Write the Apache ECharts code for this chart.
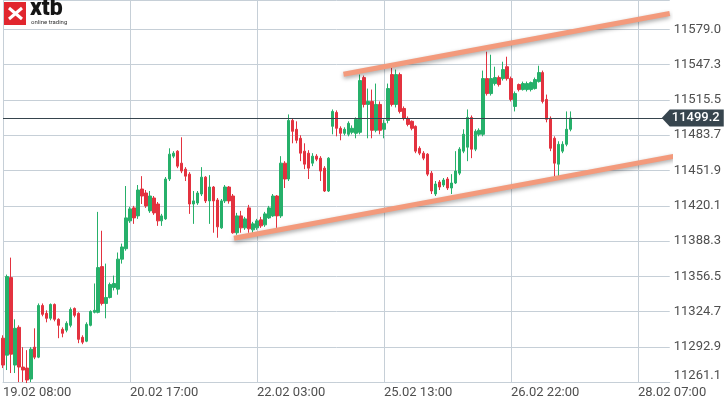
<!DOCTYPE html>
<html><head><meta charset="utf-8">
<script src="https://cdn.jsdelivr.net/npm/echarts@6/dist/echarts.min.js"></script>
<style>html,body{margin:0;padding:0;background:#fff}#c{width:724px;height:403px}</style>
</head><body><div id="c"></div>
<script>
// ---- data ----
const tickLabels = ['19.02 08:00', '20.02 17:00', '22.02 03:00', '25.02 13:00', '26.02 22:00', '28.02 07:00'];
const candlesPerTick = 32;
const slotCount = 169;
const yTickLabels = ['11261.1', '11292.9', '11324.7', '11356.5', '11388.3', '11420.1', '11451.9', '11483.7', '11515.5', '11547.3', '11579.0'];
const lastPrice = 11499.2;

const opens = [
11300.8, 11285.5, 11355.4, 11276.6, 11310.6, 11274.8, 11273.9, 11264.0, 11292.7, 11283.7,
11330.3, 11323.2, 11318.7, 11331.2, 11317.8, 11308.8, 11308.0, 11312.4, 11327.6, 11323.2,
11301.6, 11298.1, 11312.4, 11324.1, 11324.1, 11365.3, 11332.1, 11337.5, 11346.5, 11345.0,
11372.0, 11381.4, 11406.5, 11418.2, 11411.0, 11435.2, 11431.6, 11415.5, 11427.1, 11421.7,
11406.5, 11408.3, 11444.2, 11464.8, 11469.3, 11458.5, 11453.1, 11448.6, 11421.7, 11422.6,
11430.7, 11445.9, 11424.5, 11437.0, 11425.3, 11400.2, 11424.5, 11437.0, 11428.9, 11395.8,
11411.0, 11400.2, 11418.2, 11398.4, 11400.2, 11407.4, 11402.9, 11409.2, 11411.0, 11428.9,
11411.0, 11458.5, 11444.2, 11497.0, 11489.0, 11480.9, 11469.3, 11467.5, 11458.5, 11464.8,
11463.0, 11454.0, 11433.4, 11491.7, 11504.2, 11489.9, 11485.4, 11484.5, 11486.3, 11485.4,
11486.3, 11535.6, 11511.4, 11514.1, 11488.1, 11511.4, 11489.0, 11497.0, 11538.3, 11511.4,
11538.3, 11507.8, 11498.8, 11496.2, 11491.7, 11471.9, 11467.5, 11466.6, 11449.5, 11430.7,
11441.5, 11438.8, 11444.2, 11436.1, 11440.6, 11449.5, 11469.3, 11472.9, 11499.7, 11471.1,
11484.5, 11484.5, 11534.7, 11521.2, 11530.2, 11535.6, 11534.7, 11545.4, 11534.7, 11509.6,
11529.3, 11524.8, 11524.8, 11524.8, 11525.7, 11532.0, 11540.1, 11515.9, 11498.8, 11480.9,
11457.6, 11469.3, 11475.5, 11489.0];
const closes = [
11276.6, 11356.3, 11286.4, 11309.7, 11274.8, 11272.1, 11263.1, 11290.9, 11283.7, 11330.3,
11322.3, 11318.7, 11331.2, 11317.8, 11312.4, 11305.2, 11314.2, 11326.7, 11321.4, 11299.8,
11297.2, 11313.3, 11324.9, 11325.9, 11364.4, 11332.1, 11337.5, 11349.2, 11350.1, 11372.0,
11383.0, 11409.2, 11417.3, 11409.2, 11434.3, 11428.9, 11420.0, 11428.9, 11413.7, 11406.5,
11411.0, 11444.2, 11466.6, 11467.5, 11455.8, 11451.4, 11446.8, 11421.7, 11424.5, 11431.6,
11445.9, 11424.5, 11437.0, 11424.5, 11401.1, 11424.5, 11437.0, 11424.5, 11395.8, 11411.0,
11400.2, 11408.3, 11399.3, 11403.8, 11406.5, 11402.0, 11412.8, 11418.2, 11428.9, 11411.0,
11458.5, 11444.2, 11497.0, 11487.2, 11479.1, 11467.5, 11457.6, 11454.0, 11464.8, 11462.1,
11451.4, 11433.4, 11463.0, 11505.1, 11489.9, 11485.4, 11489.0, 11494.4, 11489.9, 11497.9,
11532.9, 11511.4, 11514.1, 11488.1, 11511.4, 11488.1, 11494.4, 11525.7, 11511.4, 11538.3,
11505.1, 11498.8, 11493.4, 11489.9, 11469.3, 11467.5, 11463.0, 11448.6, 11433.4, 11439.7,
11437.0, 11443.3, 11436.1, 11440.6, 11451.4, 11471.1, 11484.5, 11499.7, 11471.1, 11487.2,
11488.1, 11534.7, 11521.2, 11534.7, 11535.6, 11529.3, 11542.8, 11534.7, 11515.9, 11521.2,
11524.8, 11530.2, 11530.2, 11531.1, 11533.8, 11540.1, 11514.1, 11498.0, 11471.9, 11458.5,
11475.5, 11475.5, 11489.0, 11499.2];
const lows = [
11273.9, 11272.1, 11269.4, 11269.4, 11261.3, 11261.3, 11260.4, 11261.3, 11281.9, 11282.8,
11320.5, 11315.1, 11316.9, 11316.0, 11300.8, 11301.6, 11306.1, 11310.6, 11319.6, 11296.3,
11295.4, 11297.2, 11311.5, 11323.2, 11323.2, 11330.3, 11318.7, 11336.6, 11343.8, 11340.0,
11368.0, 11379.6, 11404.7, 11403.8, 11408.3, 11421.7, 11418.2, 11413.7, 11411.9, 11402.0,
11402.0, 11407.4, 11442.4, 11463.0, 11454.0, 11449.5, 11442.4, 11412.8, 11403.8, 11420.9,
11428.9, 11422.6, 11403.8, 11395.8, 11391.3, 11399.3, 11422.6, 11422.0, 11394.9, 11394.0,
11395.8, 11398.4, 11395.8, 11395.8, 11398.4, 11400.2, 11401.1, 11408.3, 11410.1, 11400.2,
11409.2, 11436.1, 11442.4, 11476.4, 11476.4, 11460.3, 11453.1, 11444.2, 11455.8, 11460.3,
11442.4, 11432.5, 11432.5, 11484.5, 11482.7, 11479.1, 11483.6, 11482.7, 11484.5, 11480.9,
11484.5, 11508.7, 11480.9, 11480.9, 11486.3, 11484.5, 11480.9, 11494.4, 11509.6, 11508.7,
11503.3, 11497.0, 11491.7, 11488.1, 11467.5, 11465.7, 11461.2, 11446.8, 11430.7, 11428.9,
11434.3, 11437.0, 11434.3, 11430.7, 11439.7, 11447.7, 11467.5, 11460.3, 11463.0, 11469.3,
11482.7, 11482.7, 11519.4, 11519.4, 11528.4, 11527.5, 11532.9, 11532.9, 11514.1, 11505.1,
11523.1, 11523.9, 11523.1, 11523.1, 11524.8, 11531.1, 11512.3, 11495.3, 11469.3, 11445.1,
11445.1, 11467.5, 11473.7, 11487.2];
const highs = [
11303.4, 11358.1, 11373.4, 11317.8, 11312.4, 11292.7, 11290.0, 11292.7, 11309.7, 11332.1,
11332.1, 11325.9, 11332.1, 11332.1, 11318.7, 11310.6, 11316.0, 11328.5, 11328.5, 11324.1,
11303.4, 11315.1, 11325.9, 11350.1, 11414.6, 11397.6, 11368.0, 11350.9, 11357.2, 11378.0,
11386.0, 11437.9, 11419.1, 11420.0, 11438.8, 11446.8, 11434.3, 11433.4, 11428.9, 11423.5,
11412.8, 11446.0, 11471.9, 11469.3, 11470.2, 11481.8, 11454.9, 11450.4, 11433.4, 11433.4,
11454.9, 11446.8, 11447.7, 11437.9, 11427.1, 11426.2, 11438.8, 11437.9, 11430.7, 11413.7,
11415.5, 11410.1, 11420.9, 11405.6, 11408.3, 11410.1, 11414.6, 11420.0, 11430.7, 11429.8,
11464.8, 11460.3, 11502.4, 11498.8, 11496.2, 11483.6, 11476.4, 11470.2, 11467.5, 11466.6,
11464.8, 11455.8, 11463.9, 11506.9, 11506.0, 11491.7, 11490.8, 11496.2, 11492.5, 11499.7,
11538.3, 11537.4, 11525.7, 11524.8, 11530.2, 11514.1, 11497.9, 11530.2, 11544.5, 11542.8,
11540.1, 11509.6, 11500.6, 11497.0, 11492.5, 11473.7, 11469.3, 11467.5, 11451.4, 11442.4,
11443.3, 11445.1, 11446.0, 11448.6, 11469.3, 11472.9, 11489.0, 11506.9, 11501.5, 11489.0,
11489.9, 11541.9, 11558.9, 11556.2, 11545.4, 11537.4, 11549.9, 11554.4, 11536.5, 11523.1,
11530.2, 11532.0, 11532.0, 11532.0, 11535.6, 11546.3, 11541.9, 11520.3, 11500.6, 11482.7,
11478.2, 11478.2, 11505.1, 11505.1];

// channel trend lines: [candle index, price]
const upperTrend = [[85.8, 11538.6], [168.0, 11593.4]];
const lowerTrend = [[58.2, 11390.8], [169.2, 11464.8]];

// ---- build ----
const categories = Array.from({length: slotCount}, (_, i) =>
  i % candlesPerTick === 0 ? tickLabels[i / candlesPerTick] : String(i));
const candles = opens.map((o, i) => [o, closes[i], lows[i], highs[i]]);

const yMin = 11261.149, yStep = 31.7895, yMax = 11605.5;
const up = '#26b06a', down = '#e3323f';
const gridCol = '#c6cfd7';
const txtCol = '#4f4f4f';
const font = 'Roboto';

const chart = echarts.init(document.getElementById('c'), null, {renderer: 'canvas'});
chart.setOption({
  animation: false,
  backgroundColor: '#ffffff',
  textStyle: {fontFamily: font},
  grid: {left: 1.5, right: 54, top: -2, bottom: 20.8, containLabel: false},
  xAxis: [{
    type: 'category', data: categories, boundaryGap: false,
    axisLine: {show: true, lineStyle: {color: gridCol}},
    axisTick: {show: false},
    axisLabel: {interval: (i) => i % candlesPerTick === 0, align: 'left', margin: 4,
      color: txtCol, fontSize: 13, fontFamily: font},
    splitLine: {show: true, interval: (i) => i % candlesPerTick === 0, lineStyle: {color: gridCol, width: 1}}
  }, {
    type: 'value', min: 0, max: slotCount - 1, show: false
  }],
  yAxis: {
    type: 'value', position: 'right', min: yMin, max: yMax, interval: yStep,
    axisLine: {show: false},
    axisTick: {show: true, length: 3, lineStyle: {color: gridCol}},
    splitLine: {show: true, lineStyle: {color: gridCol, width: 1}},
    axisLabel: {
      margin: 4, color: txtCol, fontSize: 13, fontFamily: font,
      showMaxLabel: true, showMinLabel: true,
      formatter: (v, idx) => {
        const t = yTickLabels[idx];
        if (t === undefined) return '';
        return idx === 0 ? '{m|' + t + '}' : t;
      },
      rich: {m: {padding: [0, 0, 12, 0], color: txtCol, fontSize: 13, fontFamily: font}}
    }
  },
  series: [{
    type: 'candlestick', xAxisIndex: 0, yAxisIndex: 0, data: candles,
    barWidth: 3, clip: false,
    itemStyle: {color: up, color0: down, borderColor: up, borderColor0: down, borderWidth: 1},
    markLine: {
      silent: true, symbol: ['none', 'none'], label: {show: false},
      lineStyle: {color: '#36444d', width: 1, type: 'solid'},
      emphasis: {disabled: true},
      data: [{yAxis: lastPrice}]
    },
    markPoint: {
      silent: true,
      symbol: 'path://M0,8L8,0L62,0L62,16L8,16Z',
      symbolSize: [62, 17], symbolOffset: [23, 0],
      itemStyle: {color: '#37454e'},
      label: {show: true, position: 'inside', offset: [3, 0], color: '#ffffff',
        fontSize: 13, fontWeight: 500, fontFamily: font, formatter: () => lastPrice.toFixed(1)},
      data: [{coord: [slotCount - 1, lastPrice], value: lastPrice}]
    },
    z: 2
  }, {
    type: 'line', xAxisIndex: 1, yAxisIndex: 0, data: upperTrend, symbol: 'none', clip: false, silent: true,
    lineStyle: {color: '#f39a7c', width: 5, cap: 'butt', shadowColor: 'rgba(0,0,0,0.35)', shadowBlur: 4, shadowOffsetY: 2},
    z: 5
  }, {
    type: 'line', xAxisIndex: 1, yAxisIndex: 0, data: lowerTrend, symbol: 'none', clip: false, silent: true,
    lineStyle: {color: '#f39a7c', width: 5, cap: 'butt', shadowColor: 'rgba(0,0,0,0.35)', shadowBlur: 4, shadowOffsetY: 2},
    z: 5
  }],
  graphic: [
    {type: 'rect', left: 4, top: 2, shape: {width: 22, height: 23}, style: {fill: '#e1262e'}, z: 10},
    {type: 'line', shape: {x1: 9, y1: 8, x2: 22, y2: 19}, style: {stroke: '#fff', lineWidth: 3}, z: 11},
    {type: 'line', shape: {x1: 9, y1: 19, x2: 22, y2: 8}, style: {stroke: '#fff', lineWidth: 3}, z: 11},
    {type: 'text', left: 30, top: -2, style: {text: 'xtb', font: '900 23px Roboto', fill: '#151515'}, z: 10},
    {type: 'text', left: 31, top: 19, style: {text: 'online trading', font: '6px Roboto', fill: '#333'}, z: 10}
  ]
});
</script></body></html>
